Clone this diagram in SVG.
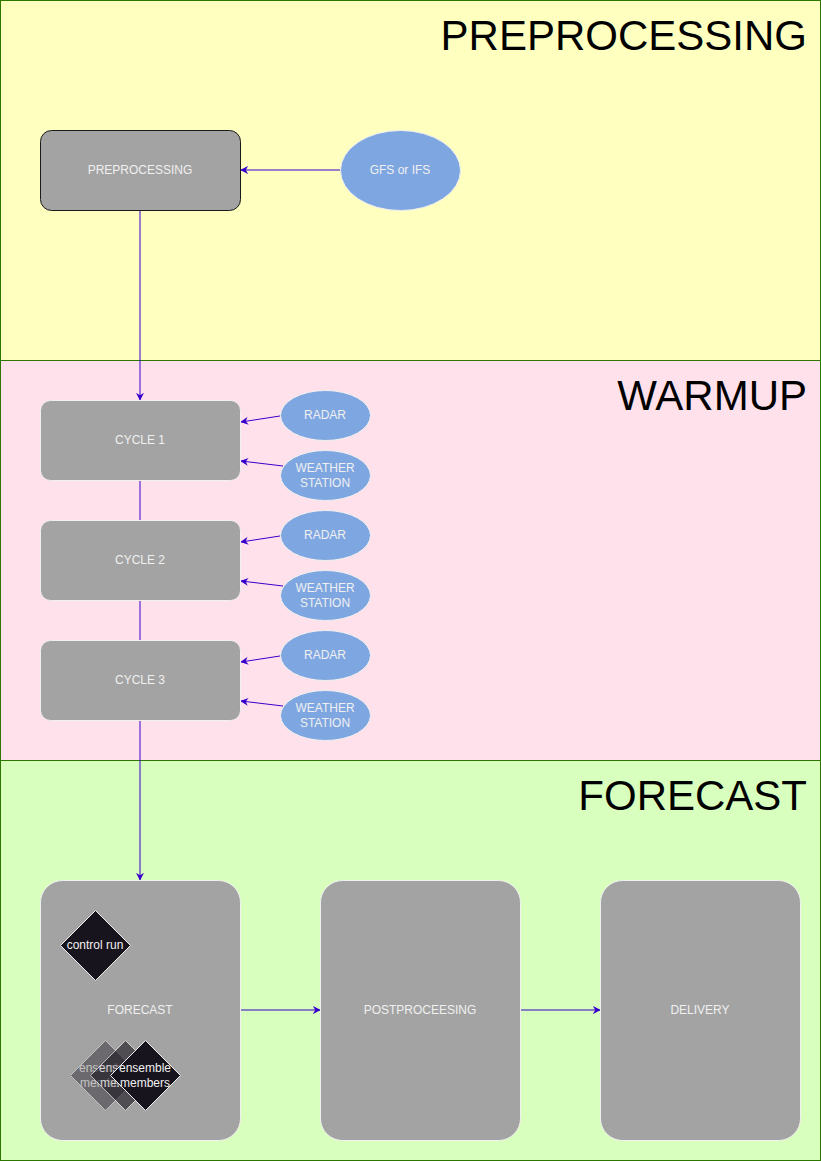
<svg xmlns="http://www.w3.org/2000/svg" width="821" height="1161" viewBox="0 0 821 1161">
<defs>
<marker id="arr" viewBox="0 0 10 10" refX="9" refY="5" markerWidth="8" markerHeight="8" markerUnits="userSpaceOnUse" orient="auto">
<path d="M0,0 L10,5 L0,10 L3,5 Z" fill="#3700CC"/>
</marker>
</defs>
<style>
.lane{stroke:#2D7600;stroke-width:1}
.title{font-family:"Liberation Sans",Arial,sans-serif;font-size:42px;fill:#000;text-anchor:end}
.box{fill:#a3a3a3;stroke:#f0f0f0;stroke-width:1}
.ell{fill:#7ea6e0;stroke:#f0f0f0;stroke-width:1}
.lbl{font-family:"Liberation Sans",Arial,sans-serif;font-size:12px;fill:#f0f0f0;text-anchor:middle}
.dia{fill:#18141d;stroke:#f0f0f0;stroke-width:1}
.edge{stroke:#3700CC;stroke-width:1;fill:none}
</style>
<g id="lanes">
<rect class="lane" x="0.5" y="0.5" width="820" height="360" fill="#ffffc0"/>
<rect class="lane" x="0.5" y="360.5" width="820" height="400" fill="#ffe1ec"/>
<rect class="lane" x="0.5" y="760.5" width="820" height="400" fill="#d9ffbe"/>
<text class="title" x="807" y="50">PREPROCESSING</text>
<text class="title" x="807" y="410">WARMUP</text>
<text class="title" x="807" y="810">FORECAST</text>
</g>
<g id="connectors">
<path class="edge" d="M340,170 L241,170" marker-end="url(#arr)"/>
<path class="edge" d="M140,210 L140,400" marker-end="url(#arr)"/>
<path class="edge" d="M280,416 L241,422" marker-end="url(#arr)"/>
<path class="edge" d="M283,466 L241,461" marker-end="url(#arr)"/>
<path class="edge" d="M140,480 L140,520"/>
<path class="edge" d="M280,536 L241,542" marker-end="url(#arr)"/>
<path class="edge" d="M283,586 L241,581" marker-end="url(#arr)"/>
<path class="edge" d="M140,600 L140,640"/>
<path class="edge" d="M280,656 L241,662" marker-end="url(#arr)"/>
<path class="edge" d="M283,706 L241,701" marker-end="url(#arr)"/>
<path class="edge" d="M140,720 L140,880" marker-end="url(#arr)"/>
<path class="edge" d="M240,1010 L320,1010" marker-end="url(#arr)"/>
<path class="edge" d="M520,1010 L600,1010" marker-end="url(#arr)"/>
</g>
<g id="preprocessing">
<rect x="40.5" y="130.5" width="200" height="80" rx="11" fill="#a3a3a3" stroke="#1a1a1a"/>
<text class="lbl" x="140" y="174">PREPROCESSING</text>
</g>
<g id="gfs">
<ellipse class="ell" cx="400.5" cy="170.5" rx="60" ry="40"/>
<text class="lbl" x="400" y="174">GFS or IFS</text>
</g>
<g id="cycle1">
<rect class="box" x="40.5" y="400.5" width="200" height="80" rx="10"/>
<text class="lbl" x="140" y="444">CYCLE 1</text>
</g>
<g id="radar1">
<ellipse class="ell" cx="325.5" cy="415.5" rx="45" ry="25"/>
<text class="lbl" x="325" y="419">RADAR</text>
</g>
<g id="ws1">
<ellipse class="ell" cx="325.5" cy="475.5" rx="45" ry="25"/>
<text class="lbl" x="325" y="472">WEATHER</text>
<text class="lbl" x="325" y="487">STATION</text>
</g>
<g id="cycle2">
<rect class="box" x="40.5" y="520.5" width="200" height="80" rx="10"/>
<text class="lbl" x="140" y="564">CYCLE 2</text>
</g>
<g id="radar2">
<ellipse class="ell" cx="325.5" cy="535.5" rx="45" ry="25"/>
<text class="lbl" x="325" y="539">RADAR</text>
</g>
<g id="ws2">
<ellipse class="ell" cx="325.5" cy="595.5" rx="45" ry="25"/>
<text class="lbl" x="325" y="592">WEATHER</text>
<text class="lbl" x="325" y="607">STATION</text>
</g>
<g id="cycle3">
<rect class="box" x="40.5" y="640.5" width="200" height="80" rx="10"/>
<text class="lbl" x="140" y="684">CYCLE 3</text>
</g>
<g id="radar3">
<ellipse class="ell" cx="325.5" cy="655.5" rx="45" ry="25"/>
<text class="lbl" x="325" y="659">RADAR</text>
</g>
<g id="ws3">
<ellipse class="ell" cx="325.5" cy="715.5" rx="45" ry="25"/>
<text class="lbl" x="325" y="712">WEATHER</text>
<text class="lbl" x="325" y="727">STATION</text>
</g>
<g id="forecast">
<rect class="box" x="40.5" y="880.5" width="200" height="260" rx="22"/>
<text class="lbl" x="140" y="1014">FORECAST</text>
</g>
<g id="control-run">
<path class="dia" d="M95.5,910.5 L130.5,945.5 L95.5,980.5 L60.5,945.5 Z"/>
<text class="lbl" x="95" y="949">control run</text>
</g>
<g id="ensemble1" opacity="0.4">
<path class="dia" d="M105.5,1040.5 L140.5,1075.5 L105.5,1110.5 L70.5,1075.5 Z"/>
<text class="lbl" x="105" y="1072">ensemble</text>
<text class="lbl" x="105" y="1087">members</text>
</g>
<g id="ensemble2" opacity="0.6">
<path class="dia" d="M125.5,1040.5 L160.5,1075.5 L125.5,1110.5 L90.5,1075.5 Z"/>
<text class="lbl" x="125" y="1072">ensemble</text>
<text class="lbl" x="125" y="1087">members</text>
</g>
<g id="ensemble3">
<path class="dia" d="M145.5,1040.5 L180.5,1075.5 L145.5,1110.5 L110.5,1075.5 Z"/>
<text class="lbl" x="145" y="1072">ensemble</text>
<text class="lbl" x="145" y="1087">members</text>
</g>
<g id="postprocessing">
<rect class="box" x="320.5" y="880.5" width="200" height="260" rx="22"/>
<text class="lbl" x="420" y="1014">POSTPROCEESING</text>
</g>
<g id="delivery">
<rect class="box" x="600.5" y="880.5" width="200" height="260" rx="22"/>
<text class="lbl" x="700" y="1014">DELIVERY</text>
</g>
</svg>
